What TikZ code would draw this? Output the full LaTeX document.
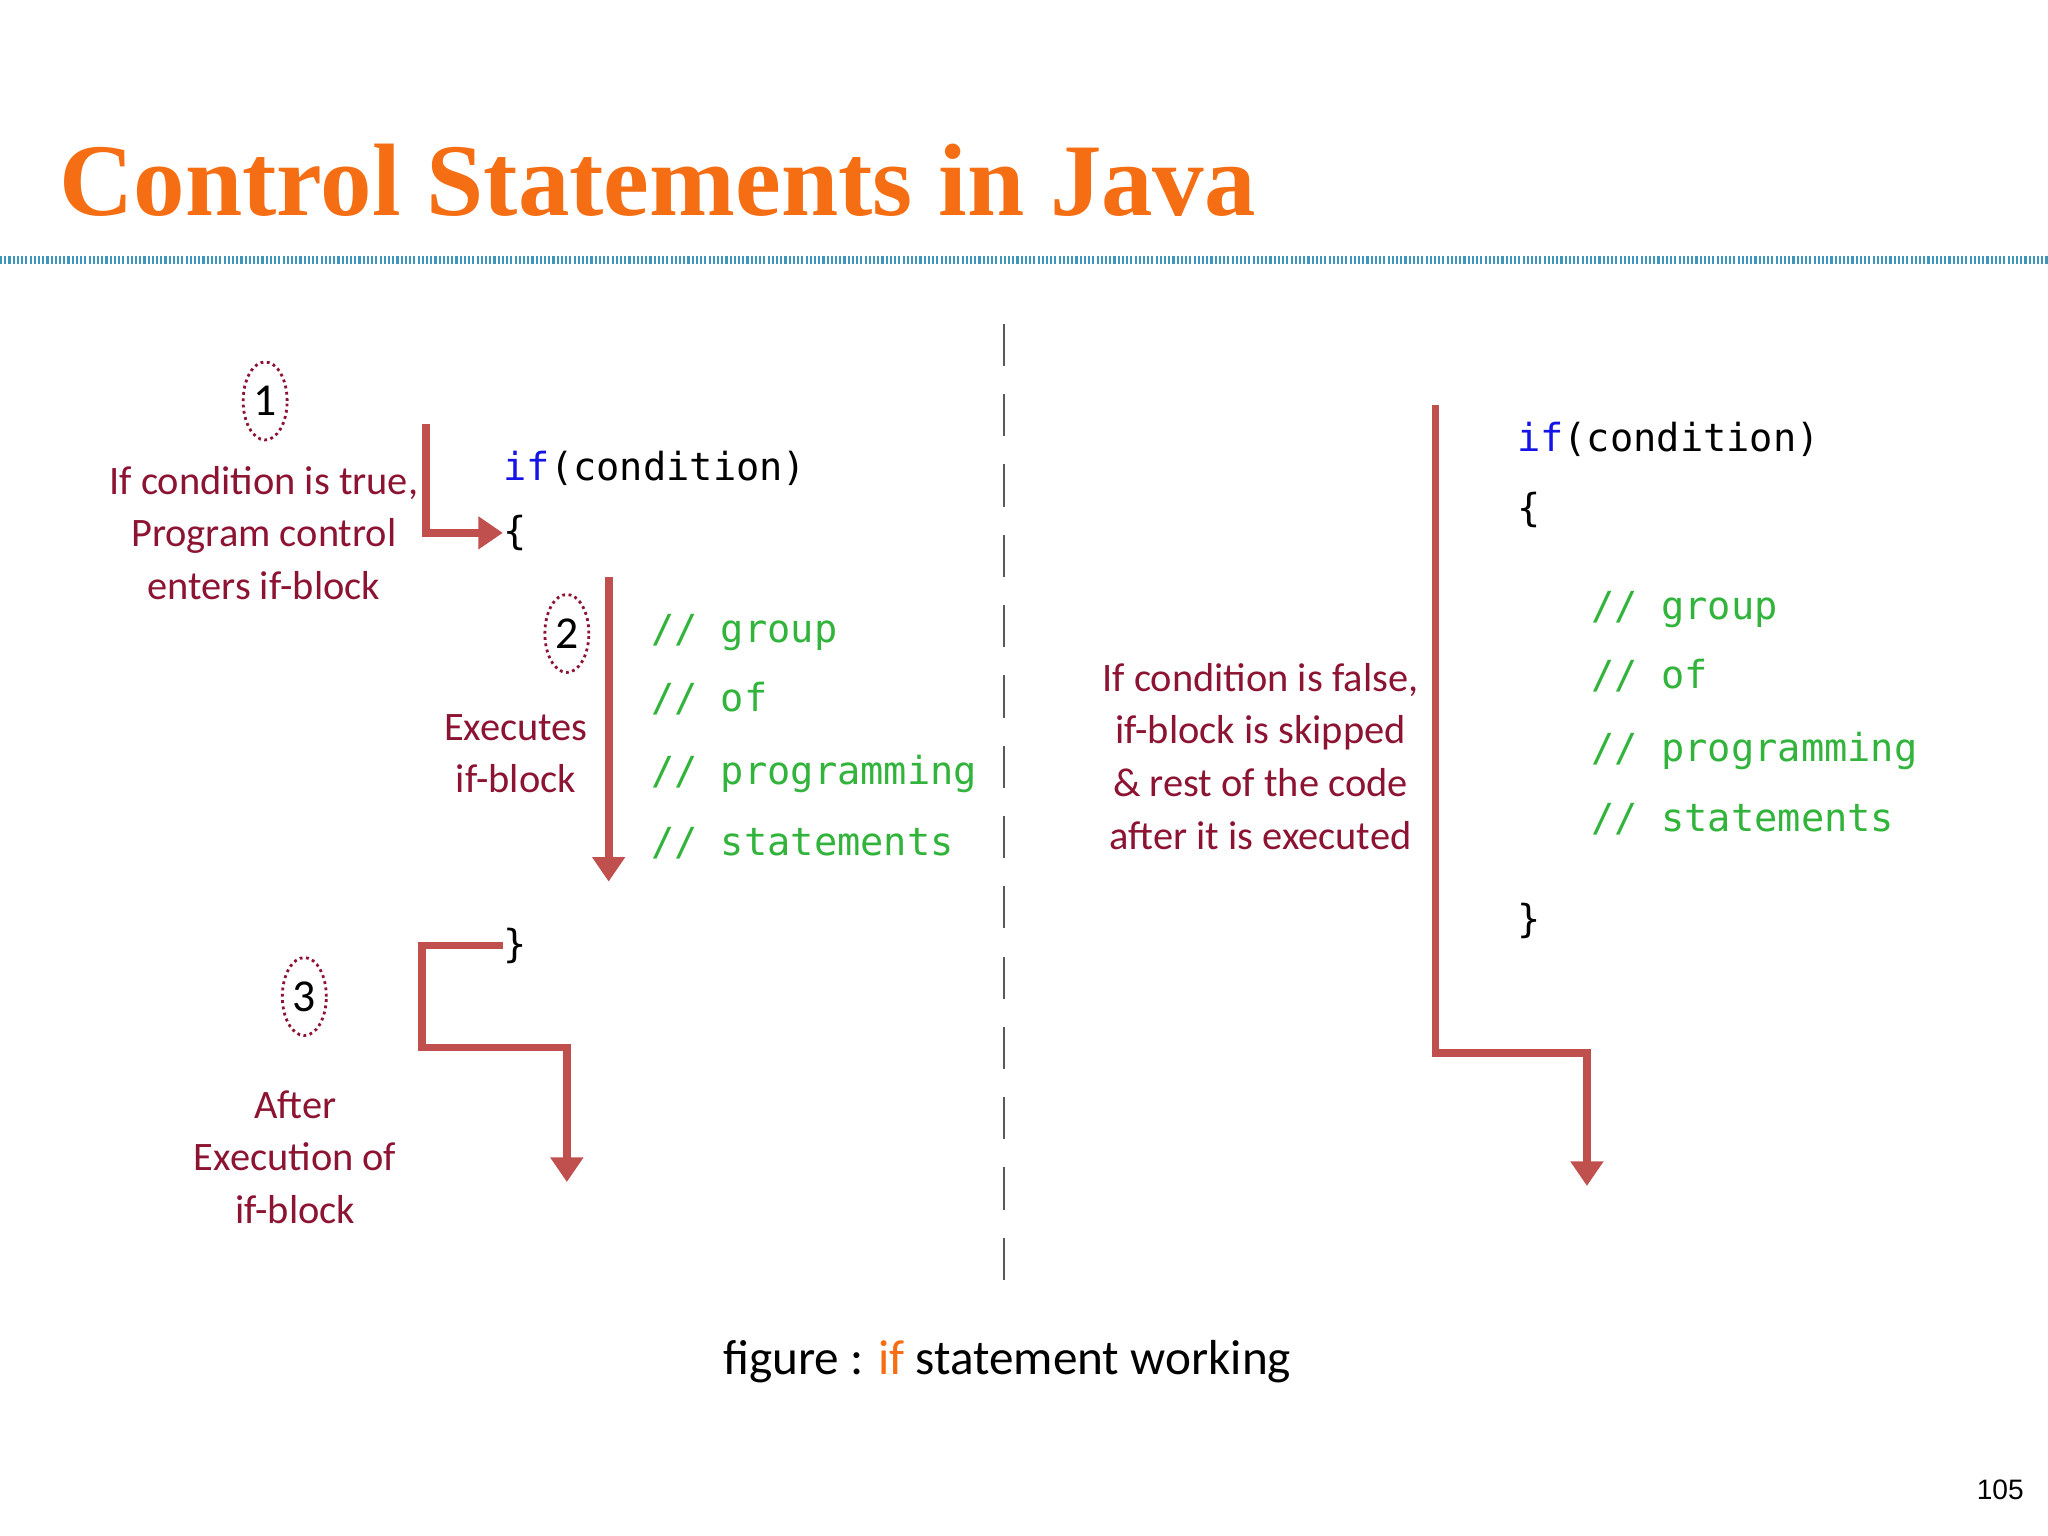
\documentclass[tikz,border=0pt]{standalone}
\usepackage{fontspec}
\setmainfont{Liberation Serif}
\newfontfamily\lbl{Carlito}
\newfontfamily\code{DejaVu Sans Mono}
\newfontfamily\pn{Liberation Sans}
\usetikzlibrary{arrows.meta,shapes.geometric}
\definecolor{ttl}{RGB}{245,110,20}
\definecolor{arr}{RGB}{192,80,77}
\definecolor{lab}{RGB}{140,20,50}
\definecolor{kw}{RGB}{20,20,230}
\definecolor{cm}{RGB}{50,180,60}
\definecolor{dl}{RGB}{60,150,190}
\tikzset{
 flow/.style={draw=arr,line width=2.2pt,-{Triangle[length=7pt,width=9pt]}},
 num/.style={draw=lab,densely dotted,thick,ellipse,minimum width=0.44cm,minimum height=0.78cm,inner sep=0pt,font=\lbl\fontsize{13}{13}\selectfont},
 lb/.style={text=lab,font=\lbl\fontsize{11.5}{15}\selectfont,align=center},
 cd/.style={anchor=base west,font=\code\fontsize{11}{13}\selectfont,inner sep=0pt},
 cmt/.style={cd,text=cm}
}
\begin{document}
\begin{tikzpicture}[x=0.013061cm,y=-0.013061cm]
\useasboundingbox (0,0) rectangle (1568,1176);
\node[anchor=base west,inner sep=0pt,text=ttl,font=\bfseries\fontsize{29.3}{30}\selectfont] (title) at (45,165) {Control Statements in Java};
\draw[dl,line width=2.5pt,dash pattern=on 0.6pt off 0.6pt] (0,199) -- (1568,199);
\draw[gray!70!black,semithick,dash pattern=on 12pt off 8pt] (769,248) -- (769,990);
% left
\node[num] (n1) at (203,307) {1};
\node[lb] (l1) at (202,408) {If condition is true,\\Program control\\enters if-block};
\node[cd] (c1) at (385,368) {\textcolor{kw}{if}(condition)};
\node[cd,anchor=west] (b1) at (385,408) {\{};
\coordinate (a1s) at (326,325);
\draw[flow] (a1s) |- (b1.west);
\node[num] (n2) at (434,485) {2};
\node[lb] (l2) at (395,577) {Executes\\if-block};
\node[cmt] (g1) at (498,492) {// group};
\node[cmt] (g2) at (498,545) {// of};
\node[cmt] (g3) at (498,601) {// programming};
\node[cmt] (g4) at (498,655) {// statements};
\coordinate (a2s) at (466,442);
\coordinate (a2e) at (466,675);
\draw[flow] (a2s) -- (a2e);
\node[cd,anchor=west] (e1) at (385,724) {\}};
\coordinate (a3e) at (434,905);
\draw[flow] (e1.west) -- (323,724) -- (323,802) -- (434,802) -- (a3e);
\node[num] (n3) at (233,763) {3};
\node[lb] (l3) at (226,886) {After\\Execution of\\if-block};
% right
\node[lb] (l4) at (965,579) {If condition is false,\\if-block is skipped\\\& rest of the code\\after it is executed};
\node[cd] (c2) at (1161,346) {\textcolor{kw}{if}(condition)};
\node[cd] (b2) at (1161,399) {\{};
\node[cmt] (h1) at (1218,474) {// group};
\node[cmt] (h2) at (1218,527) {// of};
\node[cmt] (h3) at (1218,583) {// programming};
\node[cmt] (h4) at (1218,637) {// statements};
\node[cd] (e2) at (1161,714) {\}};
\coordinate (a4s) at (1099,310);
\coordinate (a4e) at (1215,908);
\draw[flow] (a4s) -- (1099,806) -- (1215,806) -- (a4e);
\node[anchor=base,font=\lbl\fontsize{14}{14}\selectfont] (cap) at (771,1052) {figure : \textcolor{ttl}{if} statement working};
\node[anchor=base west,font=\pn\fontsize{8}{8}\selectfont] (pg) at (1504,1148) {105};
\end{tikzpicture}
\end{document}
